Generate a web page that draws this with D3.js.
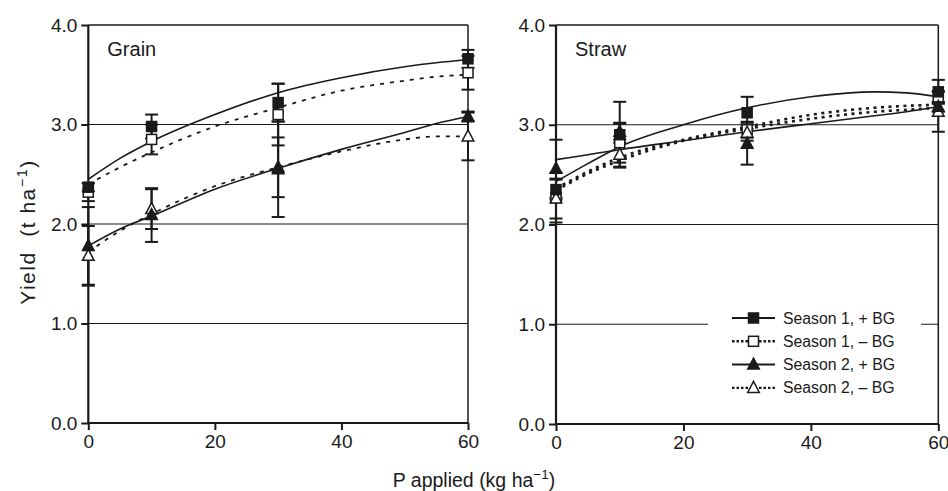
<!DOCTYPE html>
<html>
<head>
<meta charset="utf-8">
<script src="https://cdn.jsdelivr.net/npm/d3@7"></script>
<style>
  body { margin: 0; background: #fff; }
  svg { display: block; font-family: "Liberation Sans", Arial, sans-serif; }
</style>
</head>
<body>
<svg id="chart" width="948" height="491"></svg>
<script>
// P rates (kg/ha) for measured points
const pRates = [0, 10, 30, 60];
const fitX = [0, 5, 10, 20, 30, 40, 50, 55, 60];
const yTicks = [0, 1, 2, 3, 4];
const xTicks = [0, 20, 40, 60];
const seriesNames = ["Season 1, + BG", "Season 1, – BG", "Season 2, + BG", "Season 2, – BG"];

// Grain
const grainS1Plus = [2.37, 2.98, 3.22, 3.66];
const grainS1Minus = [2.32, 2.85, 3.10, 3.52];
const grainS2Plus = [1.78, 2.09, 2.55, 3.08];
const grainS2Minus = [1.68, 2.15, 2.57, 2.88];
const grainS1PlusErr = [0.04, 0.12, 0.19, 0.09];
const grainS1MinusErr = [0.09, 0.15, 0.31, 0.17];
const grainS2PlusErr = [0.39, 0.27, 0.48, 0.05];
const grainS2MinusErr = [0.30, 0.20, 0.30, 0.24];
const grainS1PlusFit = [2.45, 2.66, 2.83, 3.10, 3.32, 3.47, 3.58, 3.62, 3.65];
const grainS1MinusFit = [2.40, 2.57, 2.72, 2.98, 3.17, 3.34, 3.44, 3.48, 3.50];
const grainS2PlusFit = [1.78, 1.95, 2.08, 2.35, 2.56, 2.75, 2.92, 3.01, 3.08];
const grainS2MinusFit = [1.72, 1.93, 2.10, 2.38, 2.57, 2.73, 2.85, 2.88, 2.88];

// Straw
const strawS1Plus = [2.35, 2.90, 3.12, 3.33];
const strawS1Minus = [2.27, 2.82, 2.95, 3.28];
const strawS2Plus = [2.56, 2.93, 2.81, 3.18];
const strawS2Minus = [2.26, 2.70, 2.92, 3.13];
const strawS1PlusErr = [0.10, 0.33, 0.16, 0.12];
const strawS1MinusErr = [0.25, 0.20, 0.08, 0.06];
const strawS2PlusErr = [0.29, 0.08, 0.21, 0.05];
const strawS2MinusErr = [0.20, 0.12, 0.08, 0.20];
const strawS1PlusFit = [2.43, 2.61, 2.78, 3.00, 3.17, 3.28, 3.33, 3.32, 3.28];
const strawS1MinusFit = [2.36, 2.53, 2.67, 2.85, 2.98, 3.10, 3.17, 3.19, 3.20];
const strawS2PlusFit = [2.65, 2.70, 2.75, 2.84, 2.93, 3.01, 3.09, 3.13, 3.18];
const strawS2MinusFit = [2.34, 2.51, 2.64, 2.84, 2.96, 3.06, 3.13, 3.15, 3.17];

const ink = "#1a1a1a";
const svg = d3.select("#chart");

function marker(g, type, filled, cx, cy) {
  if (type === "square") {
    g.append("rect")
      .attr("x", cx - 5).attr("y", cy - 5)
      .attr("width", 10).attr("height", 10)
      .attr("fill", filled ? ink : "#fff")
      .attr("stroke", ink).attr("stroke-width", 1.5);
  } else {
    g.append("path")
      .attr("d", `M${cx},${cy - 6.5}L${cx + 5.8},${cy + 4.5}L${cx - 5.8},${cy + 4.5}Z`)
      .attr("fill", filled ? ink : "#fff")
      .attr("stroke", ink).attr("stroke-width", 1.5);
  }
}

// one panel
function drawPanel(p) {
  const x = d3.scaleLinear().domain([0, 60]).range([p.left, p.right]);
  const y = d3.scaleLinear().domain([0, 4]).range([p.bottom, p.top]);
  const g = svg.append("g");

  // gridlines + frame
  g.selectAll(".grid").data([1, 2, 3]).enter().append("line")
    .attr("x1", p.left).attr("x2", p.right)
    .attr("y1", (d) => y(d)).attr("y2", (d) => y(d))
    .attr("stroke", ink).attr("stroke-width", 1.1);
  g.append("line").attr("x1", p.left).attr("x2", p.right)
    .attr("y1", y(4)).attr("y2", y(4)).attr("stroke", ink).attr("stroke-width", 1.5);
  g.append("line").attr("x1", p.right).attr("x2", p.right)
    .attr("y1", y(4)).attr("y2", y(0)).attr("stroke", ink).attr("stroke-width", 1.5);

  // axes
  const yAxis = d3.axisLeft(y).tickValues(yTicks).tickFormat(d3.format(".1f")).tickSize(7).tickPadding(4);
  const xAxis = d3.axisBottom(x).tickValues(xTicks).tickSize(7).tickPadding(5);
  const ya = g.append("g").attr("transform", `translate(${p.left},0)`).call(yAxis);
  const xa = g.append("g").attr("transform", `translate(0,${p.bottom})`).call(xAxis);
  [ya, xa].forEach((a) => {
    a.attr("font-size", 19).attr("font-family", "Liberation Sans, Arial, sans-serif");
    a.select(".domain").attr("stroke", ink).attr("stroke-width", 2.2);
    a.selectAll(".tick line").attr("stroke", ink).attr("stroke-width", 2);
    a.selectAll(".tick text").attr("fill", ink);
  });
  ya.select(".domain").attr("d", `M0,${y(4)}V${y(0)}`);
  xa.select(".domain").attr("d", `M${p.left},0H${p.right}`);

  g.append("text").attr("x", p.left + 19).attr("y", y(4) + 31)
    .attr("font-size", 20).attr("fill", ink).text(p.title);

  // fitted curves
  const line = d3.line().x((d) => x(d[0])).y((d) => y(d[1])).curve(d3.curveMonotoneX);
  p.series.forEach((s) => {
    g.append("path")
      .attr("d", line(fitX.map((v, i) => [v, s.fit[i]])))
      .attr("fill", "none").attr("stroke", ink)
      .attr("stroke-width", s.dashed ? p.dashWidth : 1.6)
      .attr("stroke-dasharray", s.dashed ? p.dash : null);
  });

  // error bars
  p.series.forEach((s) => {
    s.values.forEach((v, i) => {
      const cx = x(pRates[i]);
      const e = s.err[i];
      g.append("line").attr("x1", cx).attr("x2", cx)
        .attr("y1", y(v + e)).attr("y2", y(v - e))
        .attr("stroke", ink).attr("stroke-width", 2);
      [v + e, v - e].forEach((c) => {
        g.append("line").attr("x1", cx - 6.5).attr("x2", cx + 6.5)
          .attr("y1", y(c)).attr("y2", y(c))
          .attr("stroke", ink).attr("stroke-width", 2);
      });
    });
  });

  // markers
  p.series.forEach((s) => {
    s.values.forEach((v, i) => marker(g, s.shape, s.filled, x(pRates[i]), y(v)));
  });
  return { x, y, g };
}

function seriesSet(vals, errs, fits) {
  const shapes = ["square", "square", "triangle", "triangle"];
  const filled = [true, false, true, false];
  // draw open markers under filled ones at the same spot
  return [1, 3, 0, 2].map((k) => ({
    values: vals[k], err: errs[k], fit: fits[k],
    shape: shapes[k], filled: filled[k], dashed: !filled[k]
  }));
}

drawPanel({
  title: "Grain", left: 88.3, right: 468, top: 25, bottom: 423, dash: "4,6", dashWidth: 1.8,
  series: seriesSet(
    [grainS1Plus, grainS1Minus, grainS2Plus, grainS2Minus],
    [grainS1PlusErr, grainS1MinusErr, grainS2PlusErr, grainS2MinusErr],
    [grainS1PlusFit, grainS1MinusFit, grainS2PlusFit, grainS2MinusFit])
});

const right = drawPanel({
  title: "Straw", left: 556, right: 938.3, top: 25, bottom: 424, dash: "3,4.5", dashWidth: 2.6,
  series: seriesSet(
    [strawS1Plus, strawS1Minus, strawS2Plus, strawS2Minus],
    [strawS1PlusErr, strawS1MinusErr, strawS2PlusErr, strawS2MinusErr],
    [strawS1PlusFit, strawS1MinusFit, strawS2PlusFit, strawS2MinusFit])
});

// legend (white box hides the 1.0 gridline)
const lg = right.g.append("g");
lg.append("rect").attr("x", 708).attr("y", 305).attr("width", 213).attr("height", 95).attr("fill", "#fff");
const legendShapes = ["square", "square", "triangle", "triangle"];
seriesNames.forEach((name, i) => {
  const cy = 318 + i * 23.3;
  const filled = i % 2 === 0;
  lg.append("line").attr("x1", 732).attr("x2", 775).attr("y1", cy).attr("y2", cy)
    .attr("stroke", ink).attr("stroke-width", filled ? 2 : 2.4)
    .attr("stroke-dasharray", filled ? null : "2.5,2");
  marker(lg, legendShapes[i], filled, 753.5, cy);
  lg.append("text").attr("x", 783).attr("y", cy + 5.5).attr("font-size", 15.8)
    .attr("fill", ink).text(name);
});

// axis titles
const xt = svg.append("text").attr("x", 474).attr("y", 487).attr("text-anchor", "middle")
  .attr("font-size", 19.5).attr("fill", ink);
xt.append("tspan").text("P applied (kg ha");
xt.append("tspan").attr("dy", -8).attr("font-size", 13.5).text("−1");
xt.append("tspan").attr("dy", 8).text(")");

const yt = svg.append("text").attr("transform", "translate(35,232) rotate(-90)")
  .attr("text-anchor", "middle").attr("font-size", 21).attr("fill", ink)
  .attr("xml:space", "preserve").attr("letter-spacing", 1.5);
yt.append("tspan").text("Yield  (t ha");
yt.append("tspan").attr("dy", -8).attr("font-size", 14.5).text("−1");
yt.append("tspan").attr("dy", 8).text(")");
</script>
</body>
</html>
